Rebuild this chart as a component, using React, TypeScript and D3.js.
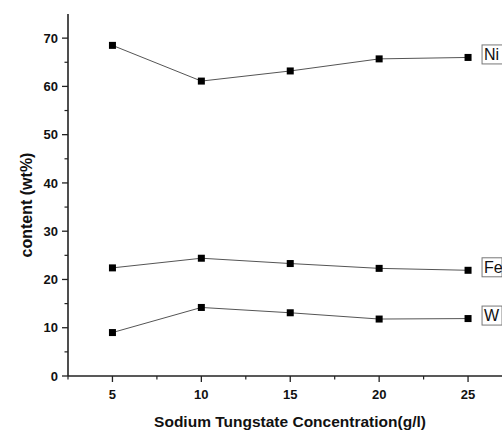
import React from "react";
import * as d3 from "d3";

const concentrations = [5, 10, 15, 20, 25];
const niValues = [68.5, 61.1, 63.2, 65.7, 66.0];
const feValues = [22.4, 24.4, 23.3, 22.3, 21.9];
const wValues = [9.0, 14.2, 13.1, 11.8, 11.9];
const seriesNames = ["Ni", "Fe", "W"];
const yMajorTicks = [0, 10, 20, 30, 40, 50, 60, 70];
const yMinorTicks = [5, 15, 25, 35, 45, 55, 65];
const xMajorTicks = [5, 10, 15, 20, 25];
const xMinorTicks = [2.5, 7.5, 12.5, 17.5, 22.5, 27.5];

const W = 502;
const H = 431;
const font = "'Liberation Sans', Arial, sans-serif";

export default function App() {
  const x = d3.scaleLinear().domain([2.5, 27.5]).range([68, 512.5]);
  const y = d3.scaleLinear().domain([0, 75]).range([376, 14]);
  const series = [niValues, feValues, wValues];
  const line = d3
    .line<number>()
    .x((_, i) => x(concentrations[i]))
    .y((d) => y(d));
  const axisColor = "#222";
  const ms = 7;

  return (
    <div style={{ position: "absolute", left: 0, top: 0, width: W, height: H, background: "#fff" }}>
      <svg width={W} height={H} style={{ display: "block" }}>
        <rect width={W} height={H} fill="#fff" />
        {/* axes */}
        <line x1={x(2.5)} x2={x(2.5)} y1={y(75)} y2={y(0)} stroke={axisColor} strokeWidth={1.6} />
        <line x1={x(2.5)} x2={x(27.5)} y1={y(0)} y2={y(0)} stroke={axisColor} strokeWidth={1.6} />
        {yMajorTicks.map((t) => (
          <g key={"ym" + t}>
            <line x1={x(2.5) - 6} x2={x(2.5)} y1={y(t)} y2={y(t)} stroke={axisColor} strokeWidth={1.3} />
            <text x={x(2.5) - 10} y={y(t)} dy="0.36em" textAnchor="end" fontFamily={font} fontWeight="bold" fontSize={13} fill="#111">
              {t}
            </text>
          </g>
        ))}
        {yMinorTicks.map((t) => (
          <line key={"yn" + t} x1={x(2.5) - 3.5} x2={x(2.5)} y1={y(t)} y2={y(t)} stroke={axisColor} strokeWidth={1.2} />
        ))}
        {xMajorTicks.map((t) => (
          <g key={"xm" + t}>
            <line x1={x(t)} x2={x(t)} y1={y(0)} y2={y(0) + 6} stroke={axisColor} strokeWidth={1.3} />
            <text x={x(t)} y={y(0) + 23} textAnchor="middle" fontFamily={font} fontWeight="bold" fontSize={13} fill="#111">
              {t}
            </text>
          </g>
        ))}
        {xMinorTicks.map((t) => (
          <line key={"xn" + t} x1={x(t)} x2={x(t)} y1={y(0)} y2={y(0) + 3.5} stroke={axisColor} strokeWidth={1.2} />
        ))}
        {/* axis titles */}
        <text
          transform={`translate(32,205) rotate(-90)`}
          textAnchor="middle"
          fontFamily={font}
          fontWeight="bold"
          fontSize={16}
          fill="#111"
        >
          content (wt%)
        </text>
        <text x={290} y={427} textAnchor="middle" fontFamily={font} fontWeight="bold" fontSize={15.5} fill="#111">
          Sodium Tungstate Concentration(g/l)
        </text>
        {/* series */}
        {series.map((vals, si) => (
          <g key={"s" + si}>
            <path d={line(vals) || ""} fill="none" stroke="#555" strokeWidth={1} />
            {vals.map((v, i) => (
              <rect
                key={i}
                x={x(concentrations[i]) - ms / 2}
                y={y(v) - ms / 2}
                width={ms}
                height={ms}
                fill="#000"
              />
            ))}
            <g transform={`translate(${x(25) + 14},${y(vals[vals.length - 1]) - 3})`}>
              <rect x={0} y={-9.5} width={seriesNames[si] === "Ni" ? 22 : 20} height={19} fill="#fff" stroke="#777" strokeWidth={1} />
              <text x={2} y={0} dy="0.36em" fontFamily={font} fontSize={16} fill="#111">
                {seriesNames[si]}
              </text>
            </g>
          </g>
        ))}
      </svg>
    </div>
  );
}
